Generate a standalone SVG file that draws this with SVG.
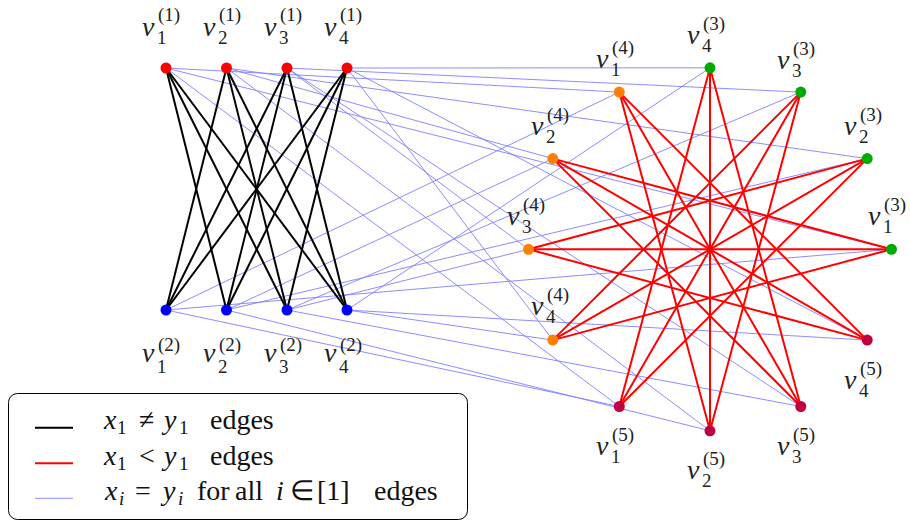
<svg xmlns="http://www.w3.org/2000/svg" width="910" height="521" viewBox="0 0 910 521">
<rect width="910" height="521" fill="#ffffff"/>
<g id="connectors">
<g id="blue-edges" stroke="#8080ff" stroke-width="0.9" fill="none">
<line x1="166" y1="68" x2="891.5" y2="249.3"/>
<line x1="166" y1="68" x2="619.3" y2="92.1"/>
<line x1="166" y1="68" x2="619.3" y2="406.5"/>
<line x1="226.5" y1="68" x2="867.2" y2="158.6"/>
<line x1="226.5" y1="68" x2="552.8" y2="158.6"/>
<line x1="226.5" y1="68" x2="710" y2="430.8"/>
<line x1="287" y1="68" x2="800.8" y2="92.1"/>
<line x1="287" y1="68" x2="528.5" y2="249.3"/>
<line x1="287" y1="68" x2="800.8" y2="406.5"/>
<line x1="347" y1="68" x2="710" y2="67.8"/>
<line x1="347" y1="68" x2="552.8" y2="340.1"/>
<line x1="347" y1="68" x2="867.2" y2="340.1"/>
<line x1="166" y1="310" x2="891.5" y2="249.3"/>
<line x1="166" y1="310" x2="619.3" y2="92.1"/>
<line x1="166" y1="310" x2="619.3" y2="406.5"/>
<line x1="226.5" y1="310" x2="867.2" y2="158.6"/>
<line x1="226.5" y1="310" x2="552.8" y2="158.6"/>
<line x1="226.5" y1="310" x2="710" y2="430.8"/>
<line x1="287" y1="310" x2="800.8" y2="92.1"/>
<line x1="287" y1="310" x2="528.5" y2="249.3"/>
<line x1="287" y1="310" x2="800.8" y2="406.5"/>
<line x1="347" y1="310" x2="710" y2="67.8"/>
<line x1="347" y1="310" x2="552.8" y2="340.1"/>
<line x1="347" y1="310" x2="867.2" y2="340.1"/>
</g>
<g id="black-edges" stroke="#000000" stroke-width="2" fill="none">
<line x1="166" y1="68" x2="226.5" y2="310"/>
<line x1="166" y1="68" x2="287" y2="310"/>
<line x1="166" y1="68" x2="347" y2="310"/>
<line x1="226.5" y1="68" x2="166" y2="310"/>
<line x1="226.5" y1="68" x2="287" y2="310"/>
<line x1="226.5" y1="68" x2="347" y2="310"/>
<line x1="287" y1="68" x2="166" y2="310"/>
<line x1="287" y1="68" x2="226.5" y2="310"/>
<line x1="287" y1="68" x2="347" y2="310"/>
<line x1="347" y1="68" x2="166" y2="310"/>
<line x1="347" y1="68" x2="226.5" y2="310"/>
<line x1="347" y1="68" x2="287" y2="310"/>
</g>
<g id="red-edges" stroke="#ff0000" stroke-width="2" fill="none">
<line x1="552.8" y1="158.6" x2="891.5" y2="249.3"/>
<line x1="528.5" y1="249.3" x2="891.5" y2="249.3"/>
<line x1="528.5" y1="249.3" x2="867.2" y2="158.6"/>
<line x1="552.8" y1="340.1" x2="891.5" y2="249.3"/>
<line x1="552.8" y1="340.1" x2="867.2" y2="158.6"/>
<line x1="552.8" y1="340.1" x2="800.8" y2="92.1"/>
<line x1="867.2" y1="158.6" x2="619.3" y2="406.5"/>
<line x1="800.8" y1="92.1" x2="619.3" y2="406.5"/>
<line x1="800.8" y1="92.1" x2="710" y2="430.8"/>
<line x1="710" y1="67.8" x2="619.3" y2="406.5"/>
<line x1="710" y1="67.8" x2="710" y2="430.8"/>
<line x1="710" y1="67.8" x2="800.8" y2="406.5"/>
<line x1="710" y1="430.8" x2="619.3" y2="92.1"/>
<line x1="800.8" y1="406.5" x2="619.3" y2="92.1"/>
<line x1="800.8" y1="406.5" x2="552.8" y2="158.6"/>
<line x1="867.2" y1="340.1" x2="619.3" y2="92.1"/>
<line x1="867.2" y1="340.1" x2="552.8" y2="158.6"/>
<line x1="867.2" y1="340.1" x2="528.5" y2="249.3"/>
</g>
</g>
<g id="nodes" fill="#222222">
<g id="v1_1"><circle fill="#ff0000" cx="166" cy="68" r="5.5"/><text font-family="Liberation Serif" font-style="italic" font-size="28" x="142" y="36">v</text><text font-family="Liberation Serif" font-size="19" x="157" y="44">1</text><text font-family="Liberation Serif" font-size="19" x="158" y="21">(1)</text></g>
<g id="v2_1"><circle fill="#ff0000" cx="226.5" cy="68" r="5.5"/><text font-family="Liberation Serif" font-style="italic" font-size="28" x="203" y="36">v</text><text font-family="Liberation Serif" font-size="19" x="218" y="44">2</text><text font-family="Liberation Serif" font-size="19" x="219" y="21">(1)</text></g>
<g id="v3_1"><circle fill="#ff0000" cx="287" cy="68" r="5.5"/><text font-family="Liberation Serif" font-style="italic" font-size="28" x="264" y="36">v</text><text font-family="Liberation Serif" font-size="19" x="279" y="44">3</text><text font-family="Liberation Serif" font-size="19" x="280" y="21">(1)</text></g>
<g id="v4_1"><circle fill="#ff0000" cx="347" cy="68" r="5.5"/><text font-family="Liberation Serif" font-style="italic" font-size="28" x="324" y="36">v</text><text font-family="Liberation Serif" font-size="19" x="339" y="44">4</text><text font-family="Liberation Serif" font-size="19" x="340" y="21">(1)</text></g>
<g id="v1_2"><circle fill="#0000ff" cx="166" cy="310" r="5.5"/><text font-family="Liberation Serif" font-style="italic" font-size="28" x="142" y="362">v</text><text font-family="Liberation Serif" font-size="19" x="157" y="372.7">1</text><text font-family="Liberation Serif" font-size="19" x="158" y="351">(2)</text></g>
<g id="v2_2"><circle fill="#0000ff" cx="226.5" cy="310" r="5.5"/><text font-family="Liberation Serif" font-style="italic" font-size="28" x="203" y="362">v</text><text font-family="Liberation Serif" font-size="19" x="218" y="372.7">2</text><text font-family="Liberation Serif" font-size="19" x="219" y="351">(2)</text></g>
<g id="v3_2"><circle fill="#0000ff" cx="287" cy="310" r="5.5"/><text font-family="Liberation Serif" font-style="italic" font-size="28" x="264" y="362">v</text><text font-family="Liberation Serif" font-size="19" x="279" y="372.7">3</text><text font-family="Liberation Serif" font-size="19" x="280" y="351">(2)</text></g>
<g id="v4_2"><circle fill="#0000ff" cx="347" cy="310" r="5.5"/><text font-family="Liberation Serif" font-style="italic" font-size="28" x="324" y="362">v</text><text font-family="Liberation Serif" font-size="19" x="339" y="372.7">4</text><text font-family="Liberation Serif" font-size="19" x="340" y="351">(2)</text></g>
<g id="v1_3"><circle fill="#00aa00" cx="891.5" cy="249.3" r="5.5"/><text font-family="Liberation Serif" font-style="italic" font-size="28" x="868" y="225">v</text><text font-family="Liberation Serif" font-size="19" x="883" y="233">1</text><text font-family="Liberation Serif" font-size="19" x="884" y="211">(3)</text></g>
<g id="v2_3"><circle fill="#00aa00" cx="867.2" cy="158.6" r="5.5"/><text font-family="Liberation Serif" font-style="italic" font-size="28" x="844" y="135">v</text><text font-family="Liberation Serif" font-size="19" x="859" y="143">2</text><text font-family="Liberation Serif" font-size="19" x="860" y="121">(3)</text></g>
<g id="v3_3"><circle fill="#00aa00" cx="800.8" cy="92.1" r="5.5"/><text font-family="Liberation Serif" font-style="italic" font-size="28" x="777" y="68.5">v</text><text font-family="Liberation Serif" font-size="19" x="792" y="76.5">3</text><text font-family="Liberation Serif" font-size="19" x="793" y="54.5">(3)</text></g>
<g id="v4_3"><circle fill="#00aa00" cx="710" cy="67.8" r="5.5"/><text font-family="Liberation Serif" font-style="italic" font-size="28" x="687" y="44">v</text><text font-family="Liberation Serif" font-size="19" x="702" y="52">4</text><text font-family="Liberation Serif" font-size="19" x="703" y="30">(3)</text></g>
<g id="v1_4"><circle fill="#ff8000" cx="619.3" cy="92.1" r="5.5"/><text font-family="Liberation Serif" font-style="italic" font-size="28" x="596" y="68">v</text><text font-family="Liberation Serif" font-size="19" x="611" y="76">1</text><text font-family="Liberation Serif" font-size="19" x="612" y="54">(4)</text></g>
<g id="v2_4"><circle fill="#ff8000" cx="552.8" cy="158.6" r="5.5"/><text font-family="Liberation Serif" font-style="italic" font-size="28" x="531" y="135">v</text><text font-family="Liberation Serif" font-size="19" x="546" y="143">2</text><text font-family="Liberation Serif" font-size="19" x="547" y="121">(4)</text></g>
<g id="v3_4"><circle fill="#ff8000" cx="528.5" cy="249.3" r="5.5"/><text font-family="Liberation Serif" font-style="italic" font-size="28" x="507" y="225">v</text><text font-family="Liberation Serif" font-size="19" x="522" y="233">3</text><text font-family="Liberation Serif" font-size="19" x="523" y="211">(4)</text></g>
<g id="v4_4"><circle fill="#ff8000" cx="552.8" cy="340.1" r="5.5"/><text font-family="Liberation Serif" font-style="italic" font-size="28" x="531" y="315">v</text><text font-family="Liberation Serif" font-size="19" x="546" y="323">4</text><text font-family="Liberation Serif" font-size="19" x="547" y="301">(4)</text></g>
<g id="v1_5"><circle fill="#bf0040" cx="619.3" cy="406.5" r="5.5"/><text font-family="Liberation Serif" font-style="italic" font-size="28" x="596" y="455">v</text><text font-family="Liberation Serif" font-size="19" x="611" y="463">1</text><text font-family="Liberation Serif" font-size="19" x="612" y="441">(5)</text></g>
<g id="v2_5"><circle fill="#bf0040" cx="710" cy="430.8" r="5.5"/><text font-family="Liberation Serif" font-style="italic" font-size="28" x="687" y="478.5">v</text><text font-family="Liberation Serif" font-size="19" x="702" y="486.5">2</text><text font-family="Liberation Serif" font-size="19" x="703" y="464.5">(5)</text></g>
<g id="v3_5"><circle fill="#bf0040" cx="800.8" cy="406.5" r="5.5"/><text font-family="Liberation Serif" font-style="italic" font-size="28" x="777" y="455">v</text><text font-family="Liberation Serif" font-size="19" x="792" y="463">3</text><text font-family="Liberation Serif" font-size="19" x="793" y="441">(5)</text></g>
<g id="v4_5"><circle fill="#bf0040" cx="867.2" cy="340.1" r="5.5"/><text font-family="Liberation Serif" font-style="italic" font-size="28" x="844" y="388.5">v</text><text font-family="Liberation Serif" font-size="19" x="859" y="396.5">4</text><text font-family="Liberation Serif" font-size="19" x="860" y="374.5">(5)</text></g>
</g>
<g id="legend" fill="#111111">
<rect x="8.5" y="393.5" width="459" height="126" rx="9" fill="#ffffff" stroke="#000000" stroke-width="1"/>
<line x1="35" y1="427.7" x2="73" y2="427.7" stroke="#000000" stroke-width="2"/>
<line x1="35" y1="463.3" x2="73" y2="463.3" stroke="#ff0000" stroke-width="2"/>
<line x1="35" y1="498.3" x2="73" y2="498.3" stroke="#8080ff" stroke-width="0.9"/>
<text font-family="Liberation Serif" font-style="italic" font-size="28" x="104" y="428.5">x</text>
<text font-family="Liberation Serif" font-size="19" x="117" y="433.5">1</text>
<text font-family="Liberation Serif" font-size="28" x="139" y="428.5">≠</text>
<text font-family="Liberation Serif" font-style="italic" font-size="28" x="164" y="428.5">y</text>
<text font-family="Liberation Serif" font-size="19" x="179" y="433.5">1</text>
<text font-family="Liberation Serif" font-size="28" x="210" y="428.5">edges</text>
<text font-family="Liberation Serif" font-style="italic" font-size="28" x="104" y="465">x</text>
<text font-family="Liberation Serif" font-size="19" x="117" y="470">1</text>
<text font-family="Liberation Serif" font-size="28" x="139" y="465">&lt;</text>
<text font-family="Liberation Serif" font-style="italic" font-size="28" x="164" y="465">y</text>
<text font-family="Liberation Serif" font-size="19" x="179" y="470">1</text>
<text font-family="Liberation Serif" font-size="28" x="210" y="465">edges</text>
<text font-family="Liberation Serif" font-style="italic" font-size="28" x="105" y="500">x</text>
<text font-family="Liberation Serif" font-style="italic" font-size="19" x="119" y="505">i</text>
<text font-family="Liberation Serif" font-size="28" x="135" y="500">=</text>
<text font-family="Liberation Serif" font-style="italic" font-size="28" x="163" y="500">y</text>
<text font-family="Liberation Serif" font-style="italic" font-size="19" x="178" y="505">i</text>
<text font-family="Liberation Serif" font-size="28" x="197" y="500">for</text>
<text font-family="Liberation Serif" font-size="28" x="235" y="500">all</text>
<text font-family="Liberation Serif" font-style="italic" font-size="28" x="276" y="500">i</text>
<text font-family="Liberation Serif" font-size="28" x="290" y="500">∈</text>
<text font-family="Liberation Serif" font-size="28" x="317" y="500">[1]</text>
<text font-family="Liberation Serif" font-size="28" x="374" y="500">edges</text>
</g>
</svg>
